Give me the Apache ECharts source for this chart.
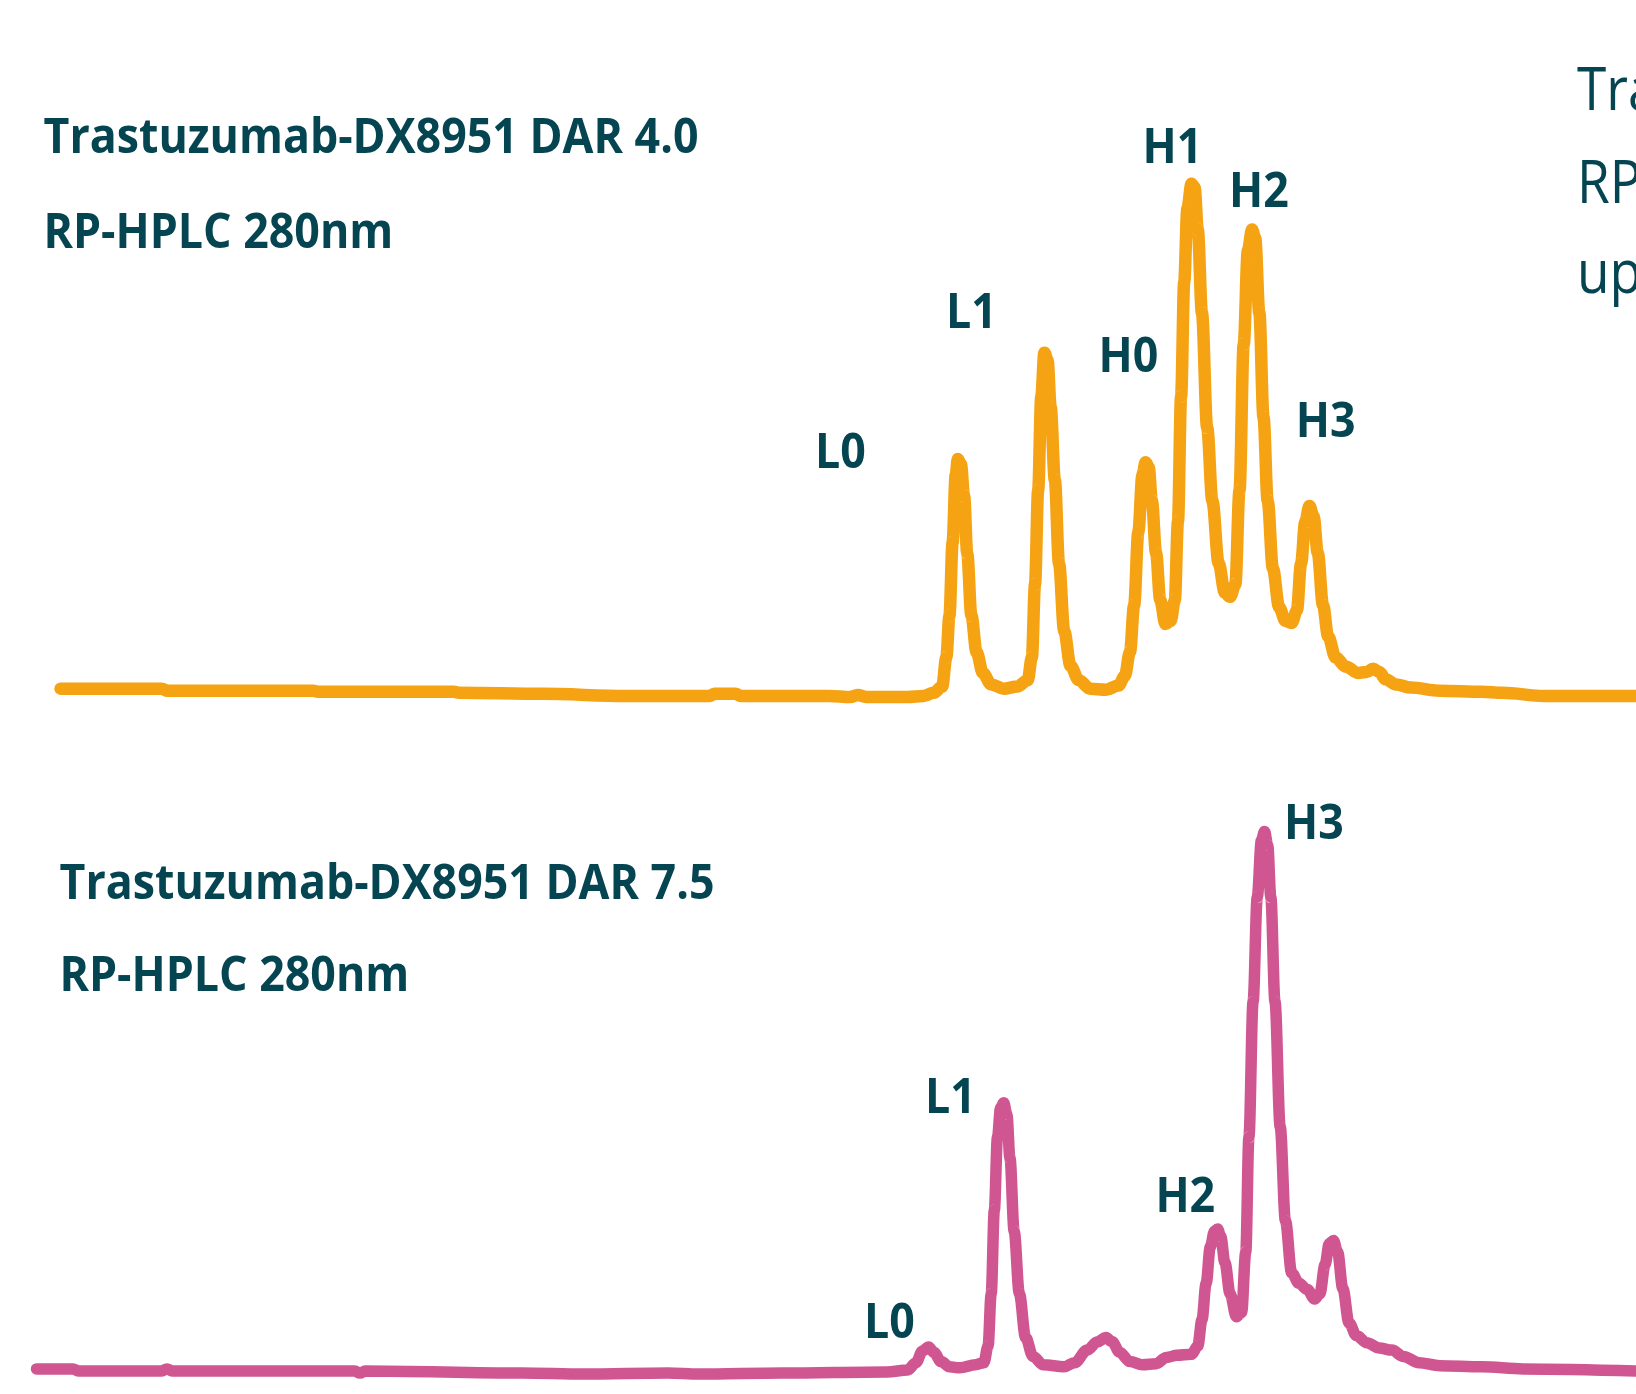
<!DOCTYPE html>
<html>
<head>
<meta charset="utf-8">
<script src="https://cdn.jsdelivr.net/npm/echarts@6/dist/echarts.min.js"></script>
<style>
  html, body { margin: 0; padding: 0; background: #ffffff; }
  #chart { width: 1636px; height: 1394px; }
</style>
</head>
<body>
<div id="chart"></div>
<script>
// ---------------- DATA (retention time in min, signal in mAU) ----------------
const orangeTime = [0.46, 2.40, 2.50, 5.30, 5.40, 8.00, 8.10, 9.70, 11.30, 12.90, 13.00, 13.40, 13.50, 15.20, 15.60, 15.74, 15.90, 16.70, 17.00, 17.20, 17.36, 17.44, 17.50, 17.56, 17.62, 17.66, 17.72, 17.78, 17.84, 17.92, 18.02, 18.14, 18.30, 18.54, 18.80, 19.00, 19.08, 19.14, 19.20, 19.26, 19.32, 19.38, 19.44, 19.52, 19.60, 19.70, 19.82, 19.98, 20.20, 20.50, 20.74, 20.86, 20.96, 21.04, 21.12, 21.20, 21.26, 21.32, 21.38, 21.46, 21.54, 21.64, 21.74, 21.82, 21.88, 21.94, 22.00, 22.06, 22.14, 22.20, 22.26, 22.34, 22.44, 22.54, 22.66, 22.78, 22.88, 22.98, 23.06, 23.14, 23.22, 23.30, 23.36, 23.44, 23.52, 23.60, 23.70, 23.82, 23.94, 24.06, 24.16, 24.24, 24.32, 24.40, 24.48, 24.56, 24.66, 24.76, 24.90, 25.10, 25.34, 25.50, 25.62, 25.74, 25.86, 26.06, 26.34, 26.90, 27.70, 28.10, 28.90, 30.66];
const orangeSignal = [1.2, 1.2, 0.8, 0.8, 0.6, 0.6, 0.4, 0.2, -0.2, -0.2, 0.2, 0.2, -0.2, -0.2, -0.4, 0.0, -0.4, -0.4, -0.2, 0.4, 1.6, 7.2, 15.2, 29.2, 42.2, 45.2, 44.2, 38.2, 27.2, 15.2, 8.2, 4.2, 2.0, 1.2, 1.6, 2.8, 7.2, 21.2, 39.2, 57.2, 65.6, 64.2, 55.2, 41.2, 25.2, 12.2, 5.6, 2.8, 1.2, 1.0, 1.8, 3.6, 8.2, 17.2, 31.2, 42.2, 44.6, 43.6, 37.2, 27.2, 18.2, 13.6, 14.2, 18.2, 33.2, 57.2, 79.2, 93.2, 98.0, 97.2, 89.2, 73.2, 51.2, 37.2, 25.2, 19.6, 18.8, 21.2, 39.2, 67.2, 85.2, 89.2, 87.6, 73.2, 53.2, 37.2, 24.2, 16.8, 14.2, 13.8, 16.2, 25.2, 33.2, 36.2, 34.2, 27.2, 17.2, 11.2, 7.2, 5.4, 4.2, 4.4, 5.0, 4.4, 3.0, 2.0, 1.4, 0.8, 0.6, 0.4, -0.2, -0.2];

const pinkTime = [0.00, 0.70, 0.80, 2.40, 2.50, 2.60, 6.10, 6.20, 6.30, 9.30, 10.50, 12.10, 12.70, 14.30, 16.30, 16.70, 16.86, 16.98, 17.10, 17.20, 17.34, 17.50, 17.70, 18.00, 18.16, 18.24, 18.30, 18.36, 18.42, 18.48, 18.54, 18.60, 18.66, 18.74, 18.84, 18.96, 19.10, 19.30, 19.70, 19.90, 20.14, 20.34, 20.50, 20.62, 20.76, 20.96, 21.20, 21.46, 21.66, 21.86, 22.14, 22.26, 22.34, 22.42, 22.50, 22.58, 22.64, 22.70, 22.78, 22.88, 23.00, 23.10, 23.18, 23.24, 23.32, 23.40, 23.48, 23.54, 23.60, 23.66, 23.74, 23.84, 23.94, 24.06, 24.20, 24.36, 24.50, 24.60, 24.70, 24.78, 24.86, 24.94, 25.04, 25.16, 25.30, 25.50, 25.74, 25.98, 26.20, 26.50, 26.90, 27.70, 28.50, 30.66];
const pinkSignal = [0.8, 0.8, 0.4, 0.4, 0.8, 0.4, 0.4, 0.0, 0.4, 0.0, -0.2, 0.0, -0.2, 0.0, 0.2, 0.6, 2.0, 4.2, 5.0, 4.0, 2.2, 1.2, 1.0, 1.6, 2.0, 5.2, 15.2, 31.2, 45.2, 50.8, 51.8, 49.6, 41.2, 27.2, 15.2, 6.8, 3.2, 1.6, 1.2, 2.0, 4.4, 6.0, 6.8, 6.0, 4.0, 2.2, 1.6, 1.8, 3.0, 3.4, 3.6, 5.2, 10.2, 17.2, 24.2, 27.2, 27.6, 26.2, 21.2, 15.2, 10.8, 11.6, 23.2, 45.2, 71.2, 91.2, 102.2, 103.8, 101.2, 91.2, 71.2, 47.2, 29.2, 19.2, 17.2, 16.0, 14.2, 15.2, 20.8, 24.8, 25.4, 23.2, 16.2, 9.6, 7.2, 5.8, 4.8, 4.4, 3.2, 2.0, 1.4, 1.2, 0.8, 0.4];

const topTitles = ['Trastuzumab-DX8951 DAR 4.0', 'RP-HPLC 280nm'];
const bottomTitles = ['Trastuzumab-DX8951 DAR 7.5', 'RP-HPLC 280nm'];
const topPeakLabels = ['L0', 'L1', 'H0', 'H1', 'H2', 'H3'];
const bottomPeakLabels = ['L0', 'L1', 'H2', 'H3'];
const sideTexts = ['Tra', 'RP', 'up'];

// ---------------- LAYOUT ----------------
const TEXT = '#054551';
const ORANGE = '#f5a213';
const PINK = '#d05692';
const BOLD_SIZE = 49;
const REG_SIZE = 60;

const measureCtx = document.createElement('canvas').getContext('2d');
function textWidth(str, font) { measureCtx.font = font; return measureCtx.measureText(str).width; }
const boldFont = 'bold ' + BOLD_SIZE + 'px "Open Sans"';
const regFont = REG_SIZE + 'px "Open Sans"';
// horizontal condensation so the wide fallback font fills the same width as the original
const boldScale = 655 / textWidth(topTitles[0], boldFont);
const regScale = boldScale * 0.97;

const topTitlePos = [[43.5, 139.5], [43.5, 234]];
const bottomTitlePos = [[59.5, 885], [59.5, 977.5]];
const topPeakPos = [[840.4, 454], [971.4, 314.5], [1128.4, 358], [1172.5, 148.8], [1259, 192.7], [1325.6, 423]];
const bottomPeakPos = [[889.5, 1324.5], [950.5, 1099], [1185.3, 1198], [1314, 825.5]];
const sidePos = [[1577, 92.5], [1577, 186], [1577, 275.5]];

const graphics = [];
function addText(str, pos, align, bold) {
  graphics.push({
    type: 'text', x: pos[0], y: pos[1],
    scaleX: bold ? boldScale : regScale,
    silent: true,
    style: {
      x: 0, y: 0, text: str, fill: TEXT,
      font: bold ? boldFont : regFont,
      textAlign: align, textVerticalAlign: 'middle'
    }
  });
}
topTitles.forEach((t, i) => addText(t, topTitlePos[i], 'left', true));
bottomTitles.forEach((t, i) => addText(t, bottomTitlePos[i], 'left', true));
topPeakLabels.forEach((t, i) => addText(t, topPeakPos[i], 'center', true));
bottomPeakLabels.forEach((t, i) => addText(t, bottomPeakPos[i], 'center', true));
sideTexts.forEach((t, i) => addText(t, sidePos[i], 'left', false));

const pxPerMin = 52.168;
const pxPerUnit = 5.2168;
const gridLeft = 36.52;
const xMax = 30.66;

function hiddenX(idx) {
  return { type: 'value', gridIndex: idx, min: 0, max: xMax, show: false };
}
function hiddenY(idx, min, max) {
  return { type: 'value', gridIndex: idx, min: min, max: max, show: false };
}

const chart = echarts.init(document.getElementById('chart'), null, { renderer: 'canvas' });
chart.setOption({
  backgroundColor: '#ffffff',
  animation: false,
  grid: [
    { left: gridLeft, width: xMax * pxPerMin, top: 694.9 - 120 * pxPerUnit, height: 130 * pxPerUnit },
    { left: gridLeft, width: xMax * pxPerMin, top: 1373.07 - 120 * pxPerUnit, height: 123 * pxPerUnit }
  ],
  xAxis: [hiddenX(0), hiddenX(1)],
  yAxis: [hiddenY(0, -10, 120), hiddenY(1, -3, 120)],
  series: [
    {
      type: 'line', xAxisIndex: 0, yAxisIndex: 0,
      data: orangeTime.map((t, i) => [t, orangeSignal[i]]),
      showSymbol: false, clip: false, smooth: 0.35, smoothMonotone: 'x',
      lineStyle: { color: ORANGE, width: 12.5, cap: 'round', join: 'round' }
    },
    {
      type: 'line', xAxisIndex: 1, yAxisIndex: 1,
      data: pinkTime.map((t, i) => [t, pinkSignal[i]]),
      showSymbol: false, clip: false, smooth: 0.35, smoothMonotone: 'x',
      lineStyle: { color: PINK, width: 11.5, cap: 'round', join: 'round' }
    }
  ],
  graphic: graphics
});
</script>
</body>
</html>
